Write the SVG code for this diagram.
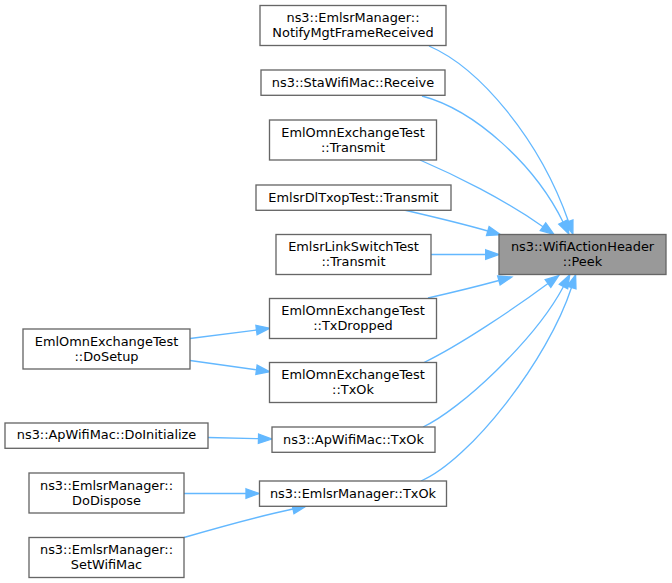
<svg xmlns="http://www.w3.org/2000/svg" width="672" height="583" viewBox="0 0 672 583">
<style>
.n rect{fill:#ffffff;stroke:#666666;stroke-width:1.33}
.n.hl rect{fill:#999999}
.n text{font-family:"DejaVu Sans",sans-serif;font-size:12.9px;fill:#000000;text-anchor:middle}
.e path{fill:none;stroke:#63b8ff;stroke-width:1.33;marker-end:url(#arr)}
</style>
<defs>
<marker id="arr" markerUnits="userSpaceOnUse" markerWidth="15" markerHeight="11" refX="0" refY="4.7" orient="auto" overflow="visible">
<path d="M0,0 L13.3,4.7 L0,9.4 Z" fill="#63b8ff" stroke="#63b8ff" stroke-width="1.33"/>
</marker>
</defs>
<rect width="672" height="583" fill="#ffffff"/>
<g id="edges" class="e">
<path d="M429,46 C480,68 540,140 568.5,221.5"/>
<path d="M422,96 C475,110 535,165 563,222"/>
<path d="M420,160 C455,175 505,200 543,226.7"/>
<path d="M404,210 C430,216 460,223 487.8,231"/>
<path d="M431,254.5 L485.7,254.5"/>
<path d="M428,298 C450,293 475,287 498.9,280.5"/>
<path d="M424,362.5 C460,345 515,308 548,283.5"/>
<path d="M423,427 C460,410 535,340 563.5,286.5"/>
<path d="M421,481 C470,460 548,360 571.5,287.5"/>
<path d="M190,338.5 L256.5,330"/>
<path d="M190,360.5 L256.5,369.8"/>
<path d="M208,437.5 L258.5,438.7"/>
<path d="M184,493.5 L246,493.5"/>
<path d="M184,537.5 C220,527 260,516 293,509"/>
</g>
<g id="peek" class="n hl"><rect x="499" y="234.5" width="167" height="40"/><text x="582.5" y="251.3">ns3::WifiActionHeader</text><text x="582.5" y="266">::Peek</text></g>
<g id="notify" class="n"><rect x="260" y="5.5" width="186" height="40"/><text x="353" y="22.3">ns3::EmlsrManager::</text><text x="353" y="37">NotifyMgtFrameReceived</text></g>
<g id="receive" class="n"><rect x="261" y="70" width="184" height="25.3"/><text x="353" y="86.5">ns3::StaWifiMac::Receive</text></g>
<g id="transmit" class="n"><rect x="269.5" y="120" width="167" height="40"/><text x="353" y="136.8">EmlOmnExchangeTest</text><text x="353" y="151.5">::Transmit</text></g>
<g id="dltxop" class="n"><rect x="256" y="185" width="195" height="25.3"/><text x="353.5" y="201.5">EmlsrDlTxopTest::Transmit</text></g>
<g id="linkswitch" class="n"><rect x="276" y="234.5" width="155" height="40"/><text x="353.5" y="251.3">EmlsrLinkSwitchTest</text><text x="353.5" y="266">::Transmit</text></g>
<g id="txdropped" class="n"><rect x="269.5" y="298.5" width="167" height="40"/><text x="353" y="315.3">EmlOmnExchangeTest</text><text x="353" y="330">::TxDropped</text></g>
<g id="txok" class="n"><rect x="269.5" y="362.5" width="167" height="40"/><text x="353" y="379.3">EmlOmnExchangeTest</text><text x="353" y="394">::TxOk</text></g>
<g id="aptxok" class="n"><rect x="272" y="427" width="163" height="25.3"/><text x="353.5" y="443.5">ns3::ApWifiMac::TxOk</text></g>
<g id="emlsrtxok" class="n"><rect x="259.5" y="481" width="187" height="25.3"/><text x="353" y="497.5">ns3::EmlsrManager::TxOk</text></g>
<g id="dosetup" class="n"><rect x="23" y="329" width="167" height="40"/><text x="106.5" y="345.8">EmlOmnExchangeTest</text><text x="106.5" y="360.5">::DoSetup</text></g>
<g id="doinitialize" class="n"><rect x="5" y="423" width="203" height="25.3"/><text x="106.5" y="439.3">ns3::ApWifiMac::DoInitialize</text></g>
<g id="dodispose" class="n"><rect x="29" y="473" width="155" height="40"/><text x="106.5" y="489.8">ns3::EmlsrManager::</text><text x="106.5" y="504.5">DoDispose</text></g>
<g id="setwifimac" class="n"><rect x="29" y="537.5" width="155" height="40"/><text x="106.5" y="554.3">ns3::EmlsrManager::</text><text x="106.5" y="569">SetWifiMac</text></g>
</svg>
